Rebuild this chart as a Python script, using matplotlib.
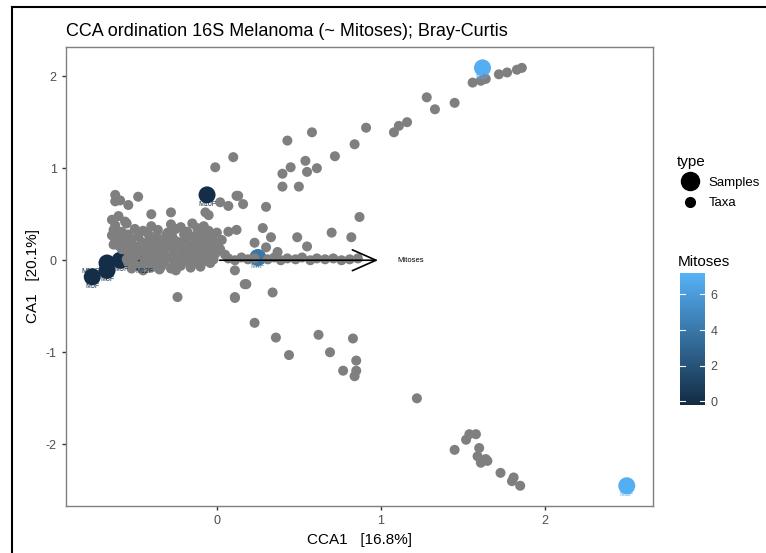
import numpy as np
import matplotlib
matplotlib.use("Agg")
import matplotlib.pyplot as plt
from matplotlib.colors import LinearSegmentedColormap, Normalize
from matplotlib.lines import Line2D

plt.rcParams["font.family"] = ["Liberation Sans", "DejaVu Sans"]
plt.rcParams["axes.unicode_minus"] = False

# taxa scores (CCA1, CA1)
taxa_cluster = [
    (-0.62, 0.38), (-0.55, 0.40), (-0.40, 0.37), (-0.28, 0.39), (-0.22, 0.36), (-0.15, 0.40), (-0.08, 0.37),
    (-0.63, 0.33), (-0.58, 0.31), (-0.50, 0.34), (-0.45, 0.32), (-0.36, 0.33), (-0.30, 0.30), (-0.25, 0.34),
    (-0.18, 0.31), (-0.12, 0.35), (-0.05, 0.32), (0.00, 0.30),
    (-0.64, 0.27), (-0.60, 0.25), (-0.54, 0.28), (-0.48, 0.26), (-0.42, 0.29), (-0.37, 0.26), (-0.31, 0.27),
    (-0.27, 0.25), (-0.20, 0.28), (-0.14, 0.26), (-0.09, 0.27), (-0.03, 0.25),
    (-0.62, 0.22), (-0.57, 0.21), (-0.52, 0.23), (-0.46, 0.20), (-0.41, 0.23), (-0.35, 0.21), (-0.29, 0.22),
    (-0.24, 0.20), (-0.19, 0.23), (-0.13, 0.21), (-0.07, 0.22), (-0.02, 0.20), (0.03, 0.22),
    (-0.63, 0.17), (-0.60, 0.16), (-0.55, 0.18), (-0.50, 0.15), (-0.44, 0.17), (-0.39, 0.16), (-0.33, 0.18),
    (-0.28, 0.15), (-0.22, 0.17), (-0.16, 0.16), (-0.11, 0.18), (-0.05, 0.15), (0.00, 0.17),
    (-0.58, 0.12), (-0.53, 0.13), (-0.47, 0.10), (-0.42, 0.12), (-0.36, 0.11), (-0.31, 0.13),
    (-0.26, 0.10), (-0.20, 0.12), (-0.15, 0.11), (-0.09, 0.13), (-0.04, 0.10), (0.02, 0.12),
    (-0.54, 0.08), (-0.49, 0.05), (-0.43, 0.07), (-0.38, 0.06), (-0.33, 0.08),
    (-0.27, 0.05), (-0.21, 0.07), (-0.17, 0.06), (-0.12, 0.08), (-0.06, 0.05), (-0.01, 0.07), (0.05, 0.06),
    (-0.55, 0.01), (-0.51, 0.03), (-0.44, 0.00), (-0.40, 0.02), (-0.35, 0.01), (-0.29, 0.03),
    (-0.24, 0.00), (-0.18, 0.02), (-0.13, 0.01), (-0.08, 0.03), (-0.02, 0.01),
    (-0.54, -0.03), (-0.50, -0.05), (-0.43, -0.01), (-0.38, -0.03), (-0.32, -0.02),
    (-0.26, -0.04), (-0.20, -0.01), (-0.14, -0.03), (-0.09, -0.02), (-0.04, -0.03),
    (-0.52, -0.09), (-0.46, -0.06), (-0.40, -0.08), (-0.34, -0.07), (-0.28, -0.09),
    (-0.22, -0.06), (-0.16, -0.08), (-0.10, -0.07), (-0.45, -0.11), (-0.35, -0.10), (-0.25, -0.11),
    (-0.64, 0.44), (-0.60, 0.48), (-0.56, 0.42),
]

taxa_scatter = [
    # upper-left stragglers
    (-0.62, 0.71), (-0.59, 0.65), (-0.62, 0.64), (-0.54, 0.60), (-0.48, 0.69), (-0.40, 0.50),
    (-0.28, 0.52), (-0.07, 0.52), (-0.05, 0.49), (0.02, 0.63), (0.07, 0.59), (0.12, 0.70), (0.16, 0.61),
    (0.30, 0.58), (0.12, 0.33), (0.07, 0.31), (0.28, 0.35), (0.33, 0.25), (0.23, 0.19), (0.30, 0.14),
    (0.49, 0.25), (0.37, 0.09), (0.87, 0.47), (0.70, 0.30), (0.82, 0.25), (0.55, 0.15),
    # spine along the arrow
    (0.07, 0.02), (0.11, 0.00), (0.15, 0.03), (0.19, 0.01), (0.23, 0.02), (0.31, 0.01), (0.35, 0.03),
    (0.39, 0.00), (0.43, 0.02), (0.48, 0.01), (0.52, 0.03), (0.57, 0.00), (0.61, 0.02), (0.66, 0.01),
    (0.71, 0.02), (0.76, 0.00), (0.81, 0.01), (0.86, 0.02),
    # upper arm
    (-0.01, 1.01), (0.10, 1.12), (0.13, 0.70), (0.40, 0.80), (0.50, 0.80), (0.40, 0.94), (0.55, 0.96),
    (0.45, 1.01), (0.61, 1.00), (0.54, 1.08), (0.72, 1.13), (0.43, 1.30), (0.58, 1.39), (0.84, 1.26),
    (0.91, 1.44), (1.08, 1.39), (1.11, 1.46), (1.16, 1.50), (1.28, 1.77), (1.33, 1.64), (1.45, 1.71),
    (1.56, 1.93), (1.61, 1.95), (1.64, 1.97), (1.72, 2.02), (1.77, 2.04), (1.83, 2.07), (1.86, 2.09),
    # lower arm
    (0.11, -0.11), (0.17, -0.26), (0.11, -0.41), (0.34, -0.35), (0.23, -0.68), (0.36, -0.84),
    (0.62, -0.81), (0.83, -0.85), (0.44, -1.03), (0.69, -1.00), (0.85, -1.09), (0.85, -1.20),
    (0.77, -1.20), (0.84, -1.26), (-0.24, -0.40), (0.11, -0.40), (0.18, -0.26),
    (1.22, -1.50), (1.45, -2.06), (1.52, -1.95), (1.54, -1.89), (1.58, -1.89), (1.60, -2.04),
    (1.59, -2.13), (1.61, -2.20), (1.65, -2.18), (1.64, -2.16), (1.73, -2.31), (1.81, -2.36),
    (1.80, -2.40), (1.85, -2.45),
]

# sample scores and their Mitoses value
sample_x = [1.62, 2.50, -0.06, -0.76, -0.67, -0.67, -0.59, -0.48, 0.25]
sample_y = [2.09, -2.45, 0.71, -0.18, -0.03, -0.11, 0.00, -0.02, 0.03]
sample_mitoses = [7, 7, 0, 0, 0, 0, 0, 0, 4]
sample_labels = ["M1F", "M3F", "M10F", "M5F", "M19F", "M8F", "M9F", "M12F", "M4F"]

# biplot arrow for the constraint
arrow_x, arrow_y = 1.0, 0.0
arrow_label = "Mitoses"

cmap = LinearSegmentedColormap.from_list("gg", ["#132B43", "#56B1F7"])
norm = Normalize(vmin=-0.2, vmax=7.2)

W, H = 766, 553
fig = plt.figure(figsize=(W / 100, H / 100), dpi=100)
ax = fig.add_axes([65.7 / W, 1 - 506 / H, (653 - 65.7) / W, (506 - 46.7) / H])

# samples first, taxa drawn over them (as in the original)
ax.scatter(sample_x, sample_y, s=150, c=sample_mitoses, cmap=cmap, norm=norm,
           edgecolors="none", zorder=2)

tx = np.array([p[0] for p in taxa_cluster + taxa_scatter])
ty = np.array([p[1] for p in taxa_cluster + taxa_scatter])
ax.scatter(tx, ty, s=52, color="#7F7F7F", edgecolors="none", zorder=3)

# sample labels, nudged apart where the samples crowd together
lab_dx = [0, 0, 0, 0, -0.10, 0, 0.01, 0.04, 0]
lab_dy = [-0.1, -0.1, -0.1, -0.1, -0.09, -0.1, -0.1, -0.1, -0.1]
for x, y, lab, m, dx, dy in zip(sample_x, sample_y, sample_labels, sample_mitoses, lab_dx, lab_dy):
    ax.text(x + dx, y + dy, lab, fontsize=5, color=cmap(norm(m)), ha="center", va="center", zorder=4)

ax.annotate("", xy=(arrow_x, arrow_y), xytext=(0, 0),
            arrowprops=dict(arrowstyle="->,head_length=1.7,head_width=0.75", color="black", lw=1.2),
            zorder=4)
ax.text(arrow_x * 1.1, arrow_y, arrow_label, fontsize=5.5, ha="left", va="center", zorder=4)

ax.set_xlim(-0.922, 2.66)
ax.set_ylim(-2.67, 2.32)
ax.set_xticks([0, 1, 2])
ax.set_yticks([-2, -1, 0, 1, 2])
for sp in ax.spines.values():
    sp.set_color("#7F7F7F")
    sp.set_linewidth(1.0)
ax.tick_params(colors="#4D4D4D", labelsize=9, length=3, width=1.0)
ax.tick_params(axis="both", color="#333333")
ax.set_xlabel("CCA1   [16.8%]", fontsize=11)
ax.set_ylabel("CA1   [20.1%]", fontsize=11)
ax.set_title("CCA ordination 16S Melanoma (~ Mitoses); Bray-Curtis", fontsize=13, loc="left", x=0.0, pad=8)

# legend for point type
handles = [Line2D([], [], marker="o", linestyle="none", color="black", markersize=13),
           Line2D([], [], marker="o", linestyle="none", color="black", markersize=7)]
fig.legend(handles, ["Samples", "Taxa"], title="type", loc="upper left",
           bbox_to_anchor=(665 / W, 1 - 143 / H), frameon=False, fontsize=9.5,
           title_fontsize=11, handletextpad=0.4, labelspacing=0.6, alignment="left")

# colour bar
cax = fig.add_axes([680 / W, 1 - 405 / H, 25 / W, (405 - 273) / H])
cb = fig.colorbar(plt.cm.ScalarMappable(norm=norm, cmap=cmap), cax=cax, ticks=[0, 2, 4, 6])
cb.outline.set_visible(False)
cax.tick_params(length=0, labelsize=9, colors="#4D4D4D", pad=4)
for t in [0, 2, 4, 6]:
    cax.plot([0, 0.2], [t, t], color="white", lw=0.8, transform=cax.get_yaxis_transform())
    cax.plot([0.8, 1.0], [t, t], color="white", lw=0.8, transform=cax.get_yaxis_transform())
fig.text(678 / W, 1 - 262 / H, "Mitoses", fontsize=11, va="center")

# screenshot frame
fig.add_artist(Line2D([12 / W, 12 / W], [0, 1 - 7 / H], color="black", lw=1.5))
fig.add_artist(Line2D([12 / W, 1], [1 - 7 / H, 1 - 7 / H], color="black", lw=1.5))

fig.savefig("out.png", dpi=100)
